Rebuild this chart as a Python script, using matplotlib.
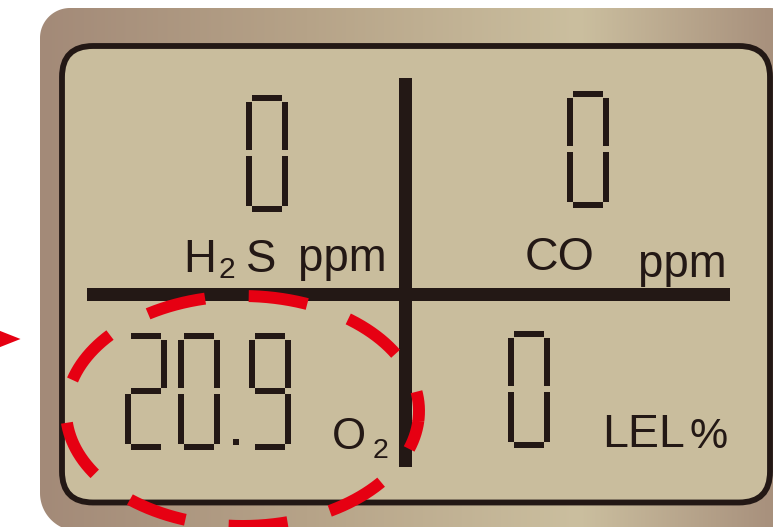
import numpy as np
import matplotlib.pyplot as plt
from matplotlib.patches import FancyBboxPatch, Rectangle, Polygon
from matplotlib.colors import LinearSegmentedColormap

plt.rcParams['font.family'] = ['Liberation Sans', 'DejaVu Sans']
plt.rcParams['lines.scale_dashes'] = False

# what the gas detector display shows (H2S, CO, O2, LEL)
sensor_names = ["H2S", "CO", "O2", "LEL"]
sensor_units = ["ppm", "ppm", "", "%"]
readings = ["0", "0", "20.9", "0"]

INK = '#231815'
RED = '#e60012'

# seven segment map
SEGS = {'0': 'abcdef', '1': 'bc', '2': 'abged', '3': 'abgcd', '4': 'fgbc',
        '5': 'afgcd', '6': 'afgedc', '7': 'abc', '8': 'abcdefg', '9': 'abcdfg'}


def seg_digit(ax, ch, x, y, w=41.5, h=116.5, t=6):
    mid = y + h / 2
    boxes = {
        'a': (x + t, y, w - 2 * t, t),
        'b': (x + w - t, y + t + 1, t, mid - t / 2 - (y + t + 1)),
        'c': (x + w - t, mid + t / 2, t, y + h - t - (mid + t / 2)),
        'd': (x + t, y + h - t, w - 2 * t, t),
        'e': (x, mid + t / 2, t, y + h - t - (mid + t / 2)),
        'f': (x, y + t + 1, t, mid - t / 2 - (y + t + 1)),
        'g': (x + t, mid - t / 2, w - 2 * t, t),
    }
    for s in SEGS[ch]:
        bx, by, bw, bh = boxes[s]
        ax.add_patch(Rectangle((bx, by), bw, bh, fc=INK, ec='none', zorder=4))


def seg_number(ax, txt, x, y):
    for ch in txt:
        if ch == '.':
            ax.add_patch(Rectangle((x + 2, y + 106), 6, 6, fc=INK, ec='none', zorder=4))
            x += 18
        else:
            seg_digit(ax, ch, x, y)
            x += 53


def rounded_rect(x0, y0, x1, y1, r_top, r_bot):
    # y grows downwards (pixel style)
    pts = []
    for (cx, cy, r, a0) in [(x0 + r_top, y0 + r_top, r_top, 180),
                            (x1 - r_top, y0 + r_top, r_top, 270),
                            (x1 - r_bot, y1 - r_bot, r_bot, 0),
                            (x0 + r_bot, y1 - r_bot, r_bot, 90)]:
        ang = np.radians(np.linspace(a0, a0 + 90, 30))
        pts += list(zip(cx + r * np.cos(ang), cy + r * np.sin(ang)))
    return pts


fig = plt.figure(figsize=(7.73, 5.27), dpi=100)
ax = fig.add_axes([0, 0, 1, 1])
ax.set_axis_off()

# bezel with horizontal gradient
bezel = Polygon(rounded_rect(40, 8, 800, 531, 30, 38), closed=True,
                fc='none', ec='none', zorder=2)
ax.add_patch(bezel)
cmap = LinearSegmentedColormap.from_list(
    'bezel', [(0, '#a38a78'), (0.35, '#b6a388'), (0.71, '#cbbf9f'), (1, '#a38a78')])
im = ax.imshow(np.linspace(0, 1, 256)[None, :], extent=(40, 800, 531, 8),
               cmap=cmap, aspect='auto', zorder=1)
im.set_clip_path(bezel)

# LCD panel
lcd = FancyBboxPatch((62, 46), 708, 456.5, boxstyle='round,pad=0,rounding_size=31',
                     fc='#c9bd9d', ec=INK, lw=4.2, zorder=3)
ax.add_patch(lcd)

# cross dividing the four readings
ax.add_patch(Rectangle((399, 78), 13, 389, fc=INK, ec='none', zorder=4))
ax.add_patch(Rectangle((87, 288.3), 643, 12.4, fc=INK, ec='none', zorder=4))

# readings
digit_pos = [(246, 95), (567, 91), (125, 333), (508, 331)]
for txt, (x, y) in zip(readings, digit_pos):
    seg_number(ax, txt, x, y)

kw = dict(color=INK, ha='left', va='baseline', zorder=4)
h2s, co, o2, lel = sensor_names
ax.text(183, 271.7, h2s[0], fontsize=32.8, **kw)
ax.text(218, 278.3, h2s[1], fontsize=21.5, **kw)
ax.text(246, 271.7, h2s[2], fontsize=32.8, **kw)
ax.text(298.3, 271, sensor_units[0], fontsize=32.8, **kw)

ax.text(525, 270, co, fontsize=33.5, **kw)
ax.text(638.3, 277, sensor_units[1], fontsize=32.8, **kw)

ax.text(332, 449, o2[0], fontsize=31.5, **kw)
ax.text(373, 458, o2[1], fontsize=20.5, **kw)

ax.text(601.7, 446.7, lel, fontsize=33.5, **kw)
ax.text(689.3, 447.5, sensor_units[3], fontsize=31, **kw)

# red dashed ellipse around the O2 reading
cx, cy, a, b = 242.5, 411, 176.5, 115
t0 = np.arcsin(10 / b)
tt = np.linspace(t0, t0 + 2 * np.pi, 3000)
ex = cx + a * np.cos(tt)
ey = cy + b * np.sin(tt)
perim = np.sum(np.hypot(np.diff(ex), np.diff(ey)))
period = perim / 9 * 0.72
dash = period * 0.575
ax.plot(ex, ey, color=RED, lw=8.6, linestyle=(dash / 2, (dash, period - dash)),
        dash_capstyle='butt', zorder=6)

# arrow tip at the left edge
ax.add_patch(Polygon([(-20, 323), (20.5, 339), (-20, 355)], closed=True,
                     fc=RED, ec='none', zorder=6))

ax.set_xlim(0, 773)
ax.set_ylim(527, 0)
fig.savefig('out.png', dpi=100, facecolor='white')
